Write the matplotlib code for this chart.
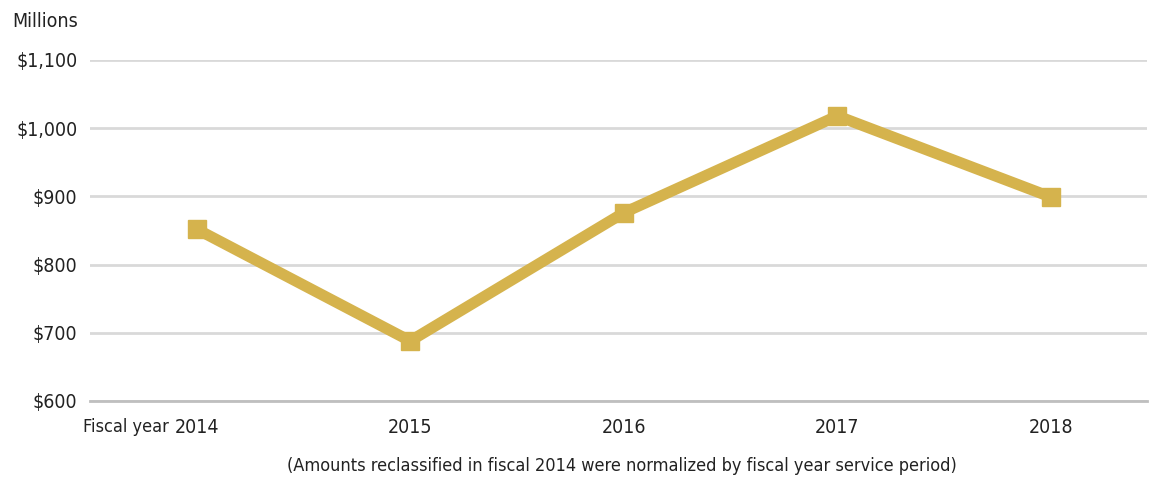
import matplotlib.pyplot as plt
from matplotlib.ticker import FuncFormatter

plt.rcParams['font.family'] = ['DejaVu Sans']
plt.rcParams['font.stretch'] = 'condensed'

years = ['2014', '2015', '2016', '2017', '2018']
amounts = [852, 688, 876, 1018, 899]
y_ticks = [600, 700, 800, 900, 1000, 1100]

gold = '#d5b34d'
text_color = '#222222'

fig = plt.figure(figsize=(11.52, 4.8), dpi=100)
ax = fig.add_axes([0.078, 0.1646, 0.9177, 0.7104])

ax.set_yticks(y_ticks)
ax.yaxis.grid(True, color='#d9d9d9', linewidth=2)
ax.set_axisbelow(True)
ax.plot(range(len(years)), amounts, color=gold, linewidth=8,
        marker='s', markersize=13, solid_joinstyle='miter', zorder=3)

ax.set_xlim(-0.5, 4.45)
ax.set_ylim(600, 1100)
ax.set_xticks(range(len(years)))
ax.set_xticklabels(years)
ax.yaxis.set_major_formatter(FuncFormatter(lambda v, p: '${:,.0f}'.format(v)))

# only the bottom line stays
for s in ['top', 'right', 'left']:
    ax.spines[s].set_visible(False)
ax.spines['bottom'].set_color('#bfbfbf')
ax.spines['bottom'].set_linewidth(2)
ax.tick_params(length=0, labelsize=14, colors=text_color)
ax.tick_params(axis='y', pad=9)
ax.tick_params(axis='x', pad=12)

fig.text(0.0104, 0.955, 'Millions', fontsize=14, color=text_color, va='center')
fig.text(0.072, 0.111, 'Fiscal year', fontsize=13, color=text_color, va='center')
fig.text(0.54, 0.029, '(Amounts reclassified in fiscal 2014 were normalized by fiscal year service period)',
         fontsize=13, color=text_color, ha='center', va='center')

fig.savefig('out.png', dpi=100)
